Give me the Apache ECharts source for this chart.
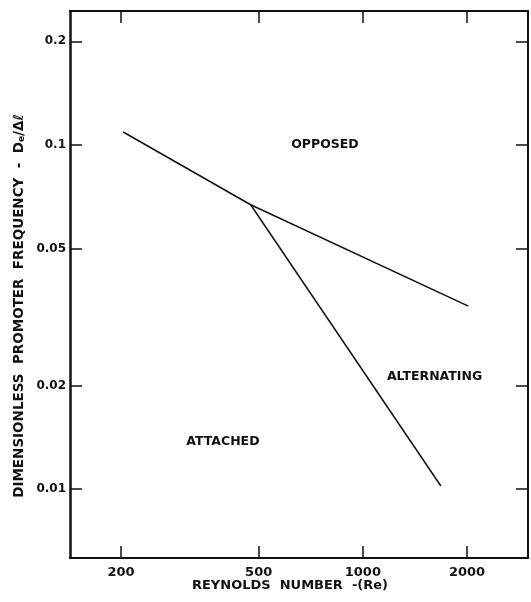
<!DOCTYPE html>
<html>
<head>
<meta charset="utf-8">
<script src="https://cdn.jsdelivr.net/npm/echarts@6/dist/echarts.min.js"></script>
<style>
  html, body { margin: 0; padding: 0; background: #fff; }
  #chart { width: 531px; height: 602px; }
</style>
</head>
<body>
<div id="chart"></div>
<script>
// ---- data ----
const boundaryRe = [203, 474, 2017];          // attached/opposed -> opposed/alternating boundary
const boundaryF  = [0.109, 0.067, 0.034];
const branchRe   = [474, 1680];               // attached/alternating boundary
const branchF    = [0.067, 0.0102];
const xTicks = [200, 500, 1000, 2000];
const yTicks = [0.01, 0.02, 0.05, 0.1, 0.2];
const regionNames = ['OPPOSED', 'ALTERNATING', 'ATTACHED'];
const regionRe    = [777, 1611, 394];
const regionF     = [0.1, 0.0212, 0.0137];
const xRange = [142.5, 3000];
const yRange = [0.0063, 0.245];

const L = Math.log10;
const toPairs = (xs, ys) => xs.map((x, i) => [L(x), L(ys[i])]);
const fmt = v => String(Number(Math.pow(10, v).toPrecision(4)));

const FONT = 'DejaVu Sans';
const INK = '#111';

function xAxisDef(pos, showLabel) {
  return {
    type: 'value', position: pos,
    min: L(xRange[0]), max: L(xRange[1]),
    axisLine: { show: true, onZero: false, lineStyle: { color: INK, width: 2 } },
    axisTick: { show: true, inside: true, length: 12, customValues: xTicks.map(L), lineStyle: { color: INK, width: 1.5 } },
    axisLabel: { show: showLabel, customValues: xTicks.map(L), formatter: fmt, margin: 8,
                 color: INK, fontFamily: FONT, fontSize: 13, fontWeight: 'bold' },
    splitLine: { show: false }
  };
}
function yAxisDef(pos, showLabel) {
  return {
    type: 'value', position: pos,
    min: L(yRange[0]), max: L(yRange[1]),
    axisLine: { show: true, onZero: false, lineStyle: { color: INK, width: pos === 'left' ? 2.5 : 2 } },
    axisTick: { show: true, inside: true, length: 12, customValues: yTicks.map(L), lineStyle: { color: INK, width: 1.5 } },
    axisLabel: { show: showLabel, customValues: yTicks.map(L), formatter: fmt, margin: 4,
                 color: INK, fontFamily: FONT, fontSize: 12, fontWeight: 'bold' },
    splitLine: { show: false }
  };
}

const chart = echarts.init(document.getElementById('chart'), null, { renderer: 'canvas' });
chart.setOption({
  animation: false,
  backgroundColor: '#fff',
  grid: { left: 70, right: 3, top: 11, bottom: 44, containLabel: false },
  xAxis: [xAxisDef('bottom', true), xAxisDef('top', false)],
  yAxis: [yAxisDef('left', true), yAxisDef('right', false)],
  series: [
    { type: 'line', data: toPairs(boundaryRe, boundaryF), showSymbol: false, symbol: 'none',
      lineStyle: { color: INK, width: 1.5 } },
    { type: 'line', data: toPairs(branchRe, branchF), showSymbol: false, symbol: 'none',
      lineStyle: { color: INK, width: 1.5 } },
    { type: 'scatter', symbolSize: 0, silent: true, itemStyle: { opacity: 1, color: INK },
      data: regionNames.map((n, i) => ({ name: n, value: [L(regionRe[i]), L(regionF[i])] })),
      label: { show: true, position: 'inside', formatter: p => p.name, opacity: 1,
               color: INK, fontFamily: FONT, fontSize: 12.5, fontWeight: 'bold' } }
  ],
  graphic: [
    { type: 'text', x: 290, y: 586,
      style: { text: 'REYNOLDS  NUMBER  -(Re)', fill: INK, font: 'bold 13px "DejaVu Sans"',
               align: 'center', verticalAlign: 'middle' } },
    { type: 'text', x: 19, y: 306, rotation: Math.PI / 2,
      style: { text: 'DIMENSIONLESS  PROMOTER  FREQUENCY  -  D{s|e}/Δℓ', fill: INK,
               font: 'bold 13.5px "DejaVu Sans"', align: 'center', verticalAlign: 'middle',
               rich: { s: { fontSize: 9, fontWeight: 'bold', fontFamily: FONT, fill: INK, verticalAlign: 'bottom', padding: [6, 0, 0, 0] } } } }
  ]
});
</script>
</body>
</html>
